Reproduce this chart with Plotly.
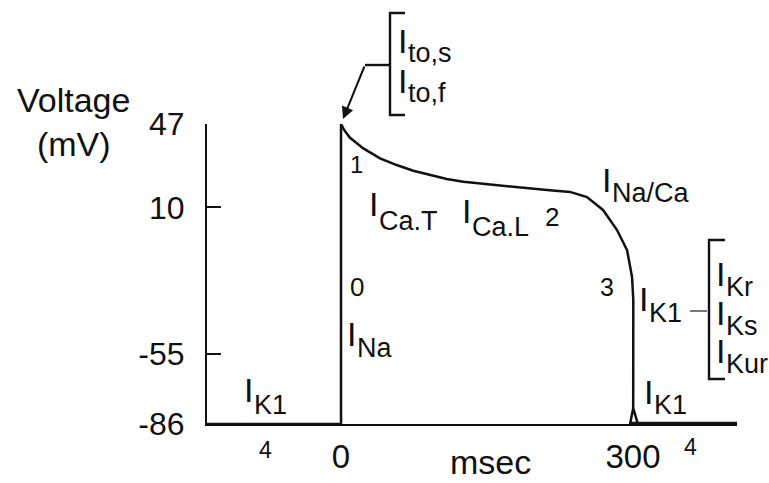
import plotly.graph_objects as go

# ---------------- data ----------------
# Ventricular action potential: time (ms) and membrane voltage (mV)
ap_time_ms = [-137.7, 0.0, 0.0, 3.0, 9.0, 22.9, 40.1, 57.2, 74.3, 91.4, 108.6,
              125.7, 142.8, 176.7, 211.6, 235.3, 252.7, 269.2, 283.6, 293.9,
              299.0, 300.3, 300.3, 300.2, 297.0, 305.0, 300.2]
ap_voltage_mv = [-86, -86, 47.0, 44.5, 41.0, 36.2, 31.8, 28.8, 26.3, 24.4, 22.6,
                 21.4, 20.6, 19.1, 17.7, 16.9, 14.6, 8.9, 0.0, -8.9,
                 -20.8, -31.0, -53.0, -79.0, -86, -86, -79.0]
# phase-4 resting potential after repolarisation
rest_time_ms = [297.0, 406.85]
rest_voltage_mv = [-86, -86]

y_tick_vals = [47, 10, -55, -86]
y_tick_text = ["47", "10", "-55", "-86"]
x_tick_vals = [0, 300]
x_tick_text = ["0", "300"]

# ion current labels: (main, subscript)
current_labels = [
    ("I", "to,s"), ("I", "to,f"), ("I", "Ca.T"), ("I", "Ca.L"), ("I", "Na/Ca"),
    ("I", "Na"), ("I", "K1"), ("I", "K1"), ("I", "K1"), ("I", "Kr"), ("I", "Ks"), ("I", "Kur"),
]
phase_labels = ["1", "0", "2", "3", "4", "4"]

# ---------------- layout helpers ----------------
W, H = 769, 483
L, R, T, B = 207, 737, 124, 424
FONT = "Liberation Sans, Arial, Helvetica, sans-serif"
INK = "#111111"


def px(x):
    return (x - L) / (R - L)


def py(y):
    return (B - y) / (B - T)


fig = go.Figure()
fig.add_trace(go.Scatter(x=ap_time_ms, y=ap_voltage_mv, mode="lines",
                         line=dict(color=INK, width=2.5), cliponaxis=False,
                         hoverinfo="skip"))
fig.add_trace(go.Scatter(x=rest_time_ms, y=rest_voltage_mv, mode="lines",
                         line=dict(color=INK, width=4.5), cliponaxis=False,
                         hoverinfo="skip"))

annotations = []


def text(t, x, y, size, xanchor="center"):
    annotations.append(dict(text=t, x=px(x), y=py(y), xref="paper", yref="paper",
                            xanchor=xanchor, yanchor="middle", showarrow=False,
                            borderpad=0, borderwidth=0,
                            font=dict(family=FONT, size=size, color=INK)))


# positions: (I glyph left, I centre y, subscript centre y)
label_pos = [
    (400, 40.5, 53.5),
    (400, 80.5, 93),
    (371, 204, 221),
    (464, 210.5, 227),
    (604, 179.5, 193),
    (349, 333.5, 347.5),
    (246, 390, 405),
    (641, 299, 313),
    (646, 391.5, 405),
    (718, 273.5, 287),
    (718, 312.5, 326),
    (718, 350.5, 364),
]
for (main, sub), (gx, iy, sy) in zip(current_labels, label_pos):
    ix = gx - 2.2
    text(main, ix, iy, 34, "left")
    text(sub, ix + 9.7, sy, 27, "left")

phase_pos = [(356, 164, 24), (357, 287, 26), (552, 217, 26), (607, 287, 25),
             (265, 450, 23), (690, 447, 23)]
for lab, (x, y, s) in zip(phase_labels, phase_pos):
    text(lab, x, y, s)

text("Voltage<br>(mV)", 73, 122, 34)
text("msec", 490, 462, 34)

# arrow pointing to the peak (I_to)
annotations.append(dict(text="", x=px(343), y=py(119), xref="paper", yref="paper",
                        showarrow=True, ax=22, ay=-54, arrowhead=2, arrowsize=1.2,
                        arrowwidth=2, arrowcolor=INK, standoff=0))

shapes = []


def path(points, width=2.4, color=INK):
    d = "M " + " L ".join(f"{px(x):.5f},{py(y):.5f}" for x, y in points)
    shapes.append(dict(type="path", path=d, xref="paper", yref="paper",
                       line=dict(color=color, width=width)))


path([(405, 13), (390, 13), (390, 115), (405, 115)])
path([(390, 65), (365, 65)])
path([(725, 240), (709, 240), (709, 379), (725, 379)])
path([(690, 311), (707, 311)], width=1.6, color="#555555")

fig.update_layout(
    width=W, height=H,
    margin=dict(l=L, r=W - R, t=T, b=H - B, pad=0, autoexpand=False),
    plot_bgcolor="white", paper_bgcolor="white", showlegend=False,
    annotations=annotations, shapes=shapes,
    xaxis=dict(range=[-137.7, 406.85], showline=True, linecolor=INK, linewidth=2,
               tickvals=x_tick_vals, ticktext=x_tick_text, ticks="",
               showgrid=False, zeroline=False, ticklabelstandoff=2, automargin=False,
               tickfont=dict(family=FONT, size=33, color=INK), fixedrange=True),
    yaxis=dict(range=[-86, 47], showline=True, linecolor=INK, linewidth=2,
               tickvals=y_tick_vals, ticktext=y_tick_text, ticks="inside",
               ticklen=14, tickwidth=2, tickcolor=INK, automargin=False,
               showgrid=False, zeroline=False, ticklabelstandoff=14,
               tickfont=dict(family=FONT, size=32, color=INK), fixedrange=True),
)

fig.write_html("out.html", config={"displayModeBar": False},
               post_script="document.body.style.margin='0';"
                           "document.body.style.overflow='hidden';")
